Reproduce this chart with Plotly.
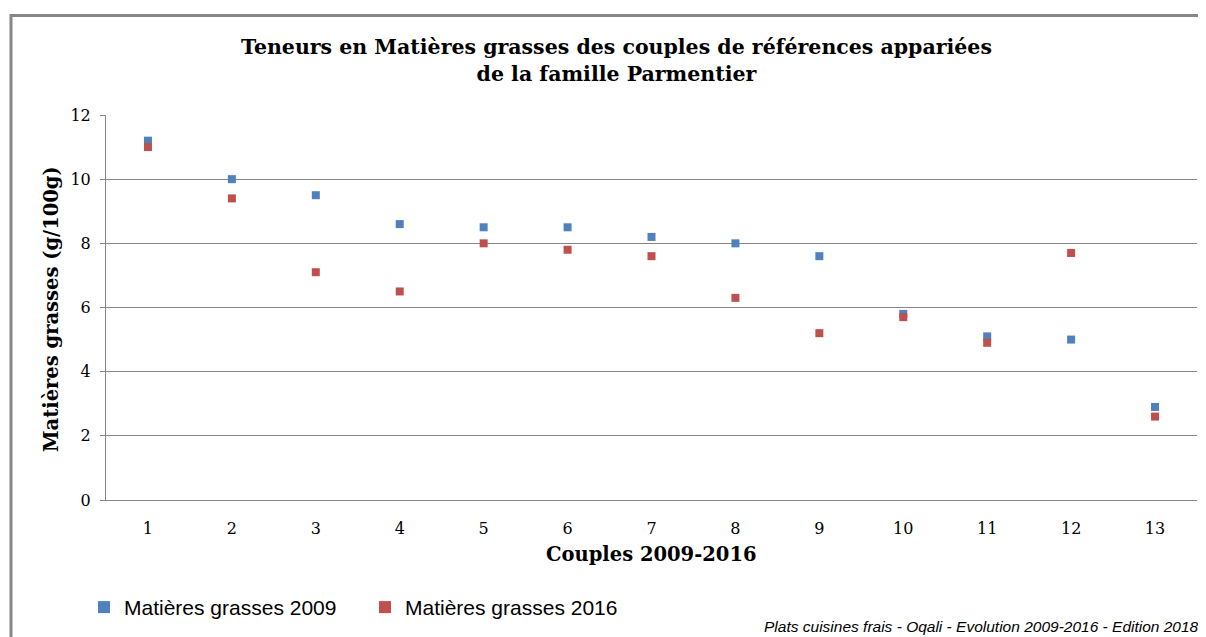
import plotly.graph_objects as go

couples = list(range(1, 14))
mg_2009 = [11.2, 10.0, 9.5, 8.6, 8.5, 8.5, 8.2, 8.0, 7.6, 5.8, 5.1, 5.0, 2.9]
mg_2016 = [11.0, 9.4, 7.1, 6.5, 8.0, 7.8, 7.6, 6.3, 5.2, 5.7, 4.9, 7.7, 2.6]
y_ticks = [0, 2, 4, 6, 8, 10, 12]

# page has an 8px body margin; work in page pixels and convert
OFF = 8
W, H = 1206 - OFF, 637 - OFF
L, R, T, B = 106, 1197, 115, 502          # plot area in page pixels
pw, ph = R - L, B - T


def px(x):
    return (x - L) / pw


def py(y):
    return (B - y) / ph


serif = "DejaVu Serif"
sans = "Liberation Sans"

fig = go.Figure()
fig.add_trace(go.Scatter(
    x=couples, y=mg_2009, mode="markers", name="Matières grasses 2009",
    marker=dict(symbol="square", size=8, color="#4F81BD"),
))
fig.add_trace(go.Scatter(
    x=couples, y=mg_2016, mode="markers", name="Matières grasses 2016",
    marker=dict(symbol="square", size=8, color="#C0504D"),
))

fig.update_layout(
    width=W, height=H, autosize=False,
    margin=dict(l=L - OFF, r=(W + OFF) - R, t=T - OFF, b=(H + OFF) - B, pad=0),
    paper_bgcolor="white", plot_bgcolor="white",
    showlegend=True,
    legend=dict(
        orientation="h", x=px(84), y=py(610), xanchor="left", yanchor="middle",
        font=dict(family=sans, size=21, color="#000000"),
        entrywidthmode="pixels", entrywidth=236,
        itemsizing="constant", bgcolor="rgba(0,0,0,0)",
    ),
    xaxis=dict(
        range=[0.5, 13.5], tickmode="array", tickvals=couples,
        ticktext=[str(c) for c in couples],
        showgrid=False, zeroline=False, showline=True, linecolor="#868686", linewidth=1,
        ticks="", ticklabelstandoff=14,
        tickfont=dict(family=serif, size=16, color="#000000"),
    ),
    yaxis=dict(
        range=[0, 12], tickmode="array", tickvals=y_ticks,
        showgrid=True, gridcolor="#868686", gridwidth=1, zeroline=False,
        showline=True, linecolor="#868686", linewidth=1,
        ticks="outside", ticklen=5, tickcolor="#868686",
        ticklabelstandoff=6,
        tickfont=dict(family=serif, size=16, color="#000000"),
    ),
    annotations=[
        dict(text="<b>Teneurs en Matières grasses des couples de références appariées<br>de la famille Parmentier</b>",
             x=px(616), y=py(60.5), xref="paper", yref="paper", xanchor="center", yanchor="middle",
             showarrow=False, font=dict(family=serif, size=20.5, color="#000000")),
        dict(text="<b>Matières grasses (g/100g)</b>", textangle=-90,
             x=px(52), y=py(310), xref="paper", yref="paper", xanchor="center", yanchor="middle",
             showarrow=False, font=dict(family=serif, size=19.5, color="#000000")),
        dict(text="<b>Couples 2009-2016</b>",
             x=px(651), y=py(557), xref="paper", yref="paper", xanchor="center", yanchor="middle",
             showarrow=False, font=dict(family=serif, size=19.5, color="#000000")),
        dict(text="<i>Plats cuisines frais - Oqali - Evolution 2009-2016 - Edition 2018</i>",
             x=px(1201), y=py(629), xref="paper", yref="paper", xanchor="right", yanchor="middle",
             showarrow=False, font=dict(family=sans, size=15.5, color="#000000")),
    ],
    shapes=[
        dict(type="rect", xref="paper", yref="paper",
             x0=px(11), x1=px(1220), y0=py(650), y1=py(15),
             line=dict(color="#878787", width=3), fillcolor="rgba(0,0,0,0)", layer="below"),
    ],
)

fig.write_html("out.html")
